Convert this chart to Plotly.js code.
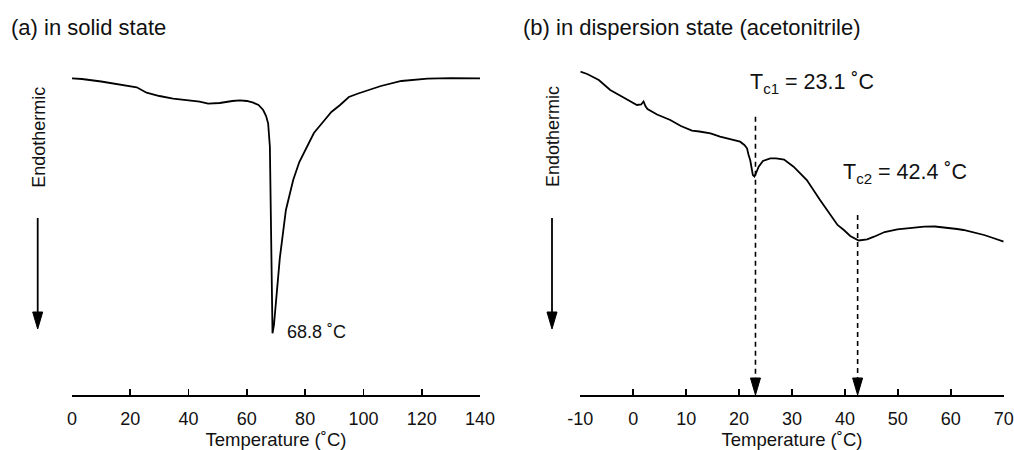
<!DOCTYPE html>
<html>
<head>
<meta charset="utf-8">
<script src="https://cdn.plot.ly/plotly-3.0.1.min.js"></script>
<style>html,body{margin:0;padding:0;background:#fff;}#chart{width:1014px;height:450px;}</style>
</head>
<body>
<div id="chart"></div>
<script>
// ---- data (heat flow in arbitrary units) ----
const solidTemp = [0, 3.4, 10, 17, 22.2, 25.6, 30, 34.7, 40, 43.8, 46.7, 50.7, 55, 57.6, 60, 62.2, 64, 65.6, 66.6, 67.3, 67.9, 68.2, 68.5, 68.8, 69.3, 70.2, 71.3, 73.4, 75.9, 78, 80.5, 83, 86.2, 89, 92, 95, 98.2, 102, 106, 113, 122, 130, 140];
const solidHeat = [321.7, 321, 318.5, 315.5, 312.7, 307.3, 304, 301.3, 299.5, 298.3, 296.3, 297, 299, 299.7, 299, 297.3, 295, 290, 284, 276.7, 253.3, 190, 110, 66.7, 75, 108.3, 141.7, 190, 220, 238, 253.3, 267, 278.3, 288, 295, 303, 306.5, 310, 314, 319, 321.3, 321.8, 321.7];

const dispTemp = [-10, -8.7, -6.5, -4.35, -2, 0, 0.7, 1.5, 1.95, 2.3, 2.7, 4.5, 7, 9, 11.1, 12.5, 14.6, 16.4, 17.7, 19, 20.2, 21.0, 21.5, 21.8, 22.1, 22.6, 22.9, 23.3, 23.7, 24.5, 25.9, 27, 28.5, 30.3, 32.8, 35.3, 37.2, 38.6, 39.8, 41, 42.6, 43.5, 44.2, 45.5, 47.5, 49.9, 52, 55, 57, 59, 61.2, 62.4, 64, 66.3, 68, 70];
const dispHeat = [328.3, 326, 320, 310, 303, 297, 295, 295.5, 298.5, 294, 291, 285.5, 280, 274, 269.3, 268.5, 266.7, 263.3, 261.7, 260.5, 258.3, 255, 251.7, 245, 240, 225, 223.5, 228, 233.3, 239, 241.7, 241.7, 240.5, 233.3, 220, 200, 185, 175, 170, 164, 159.5, 160, 160.7, 163.3, 168, 170.7, 172, 173.3, 173.5, 172.5, 171, 170, 168, 165, 162, 158.3];

const solidTicks = [0, 20, 40, 60, 80, 100, 120, 140];
const dispTicks = [-10, 0, 10, 20, 30, 40, 50, 60, 70];
const peakTemp = 68.8;
const tcValues = [23.1, 42.4];
const tcLabels = ['T<sub>c1</sub> = 23.1 ˚C', 'T<sub>c2</sub> = 42.4 ˚C'];
const panelTitles = ['(a) in solid state', '(b) in dispersion state (acetonitrile)'];

// ---- layout helpers ----
const W = 1014, H = 450, MT = 60, MB = 55;
const PH = H - MT - MB; // plot height 335
const px2fx = p => p / W;
const py2fy = p => (H - MB - p) / PH;
const py2h = p => 400 - p; // data value of a pixel row (y range [5,340])
const FONT = 'Liberation Sans, Arial, Helvetica, sans-serif';

const dom1 = [px2fx(72), px2fx(480)];
const dom2 = [px2fx(580.3), px2fx(1003.7)];
const uPerPx2 = 80 / (1003.7 - 580.3);

const line = {color: '#000', width: 1.8};
const traces = [
  {x: solidTemp, y: solidHeat, xaxis: 'x', yaxis: 'y', mode: 'lines', line: line, hoverinfo: 'skip'},
  {x: dispTemp, y: dispHeat, xaxis: 'x2', yaxis: 'y2', mode: 'lines', line: line, hoverinfo: 'skip'}
];

function xax(domain, range, ticks) {
  return {
    domain: domain, range: range, tickvals: ticks, ticktext: ticks.map(String),
    showline: true, linecolor: '#000', linewidth: 1.8, mirror: false,
    ticks: 'inside', ticklen: 6, tickwidth: 1.8, tickcolor: '#000',
    showgrid: false, zeroline: false,
    tickfont: {family: FONT, size: 18, color: '#111'},
    ticklabelstandoff: 7,
    title: {text: 'Temperature (˚C)', font: {family: FONT, size: 18.5, color: '#111'}, standoff: 9},
    fixedrange: true
  };
}
const yax = (anchor) => ({range: [5, 340], visible: false, showgrid: false, zeroline: false, fixedrange: true, anchor: anchor});

const shapes = [];
const annotations = [];

// dashed drop lines with arrowheads
const dashTopPx = [116.7, 215];
tcValues.forEach((t, i) => {
  shapes.push({type: 'line', xref: 'x2', yref: 'y2', x0: t, x1: t, y0: py2h(dashTopPx[i]), y1: py2h(380),
    line: {color: '#000', width: 1.6, dash: '5px,4px'}});
  const hw = 5 * uPerPx2;
  shapes.push({type: 'path', xref: 'x2', yref: 'y2',
    path: `M ${t - hw},${py2h(378)} L ${t + hw},${py2h(378)} L ${t},${py2h(395)} Z`,
    fillcolor: '#000', line: {color: '#000', width: 1}});
  annotations.push({xref: 'paper', yref: 'paper', x: px2fx(i === 0 ? 747.5 : 841), y: py2fy(i === 0 ? 84 : 173),
    xanchor: 'left', yanchor: 'middle', text: tcLabels[i], showarrow: false,
    font: {family: FONT, size: 21.5, color: '#111'}});
});

// Endothermic arrows and labels
[37.7, 552].forEach(xp => {
  shapes.push({type: 'line', xref: 'paper', yref: 'paper', x0: px2fx(xp), x1: px2fx(xp), y0: py2fy(218), y1: py2fy(314),
    line: {color: '#000', width: 1.8}});
  shapes.push({type: 'path', xref: 'paper', yref: 'paper',
    path: `M ${px2fx(xp - 5)},${py2fy(312)} L ${px2fx(xp + 5)},${py2fy(312)} L ${px2fx(xp)},${py2fy(329)} Z`,
    fillcolor: '#000', line: {color: '#000', width: 1}});
  annotations.push({xref: 'paper', yref: 'paper', x: px2fx(xp + 1), y: py2fy(137), textangle: -90,
    xanchor: 'center', yanchor: 'middle', text: 'Endothermic', showarrow: false,
    font: {family: FONT, size: 18, color: '#111'}});
});

// peak label
annotations.push({xref: 'x', yref: 'y', x: peakTemp + 4.2, y: py2h(331.7), xanchor: 'left', yanchor: 'middle',
  text: peakTemp.toFixed(1) + ' ˚C', showarrow: false, font: {family: FONT, size: 18, color: '#111'}});

// panel titles
[[9, panelTitles[0]], [521, panelTitles[1]]].forEach(([xp, t]) => {
  annotations.push({xref: 'paper', yref: 'paper', x: px2fx(xp), y: py2fy(28), xanchor: 'left', yanchor: 'middle',
    text: t, showarrow: false, font: {family: FONT, size: 22, color: '#111'}});
});

const layout = {
  width: W, height: H,
  margin: {l: 0, r: 0, t: MT, b: MB, pad: 0},
  paper_bgcolor: '#fff', plot_bgcolor: '#fff',
  showlegend: false,
  xaxis: xax(dom1, [0, 140], solidTicks),
  xaxis2: Object.assign(xax(dom2, [-10, 70], dispTicks), {anchor: 'y2'}),
  yaxis: yax('x'),
  yaxis2: yax('x2'),
  shapes: shapes,
  annotations: annotations
};
layout.xaxis.anchor = 'y';

Plotly.newPlot('chart', traces, layout, {displayModeBar: false, staticPlot: true});
</script>
</body>
</html>
